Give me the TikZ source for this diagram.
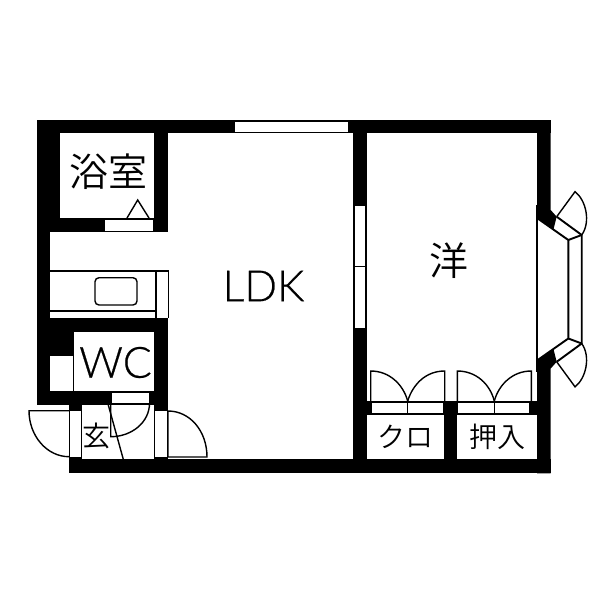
\documentclass[tikz,border=0pt]{standalone}
\usepackage{fontspec}
\setmainfont{Lato Light}[AutoFakeBold=0.5]
\newfontfamily\cjk{Noto Sans CJK JP DemiLight}
\tikzset{
  wall/.style={fill=black,draw=none},
  room/.style={fill=white,draw=none},
  thin/.style={draw=black,line width=1.4pt},
  bay/.style={draw=black,line width=1.9pt,line join=miter},
  bigtxt/.style={font=\bfseries\fontsize{43}{43}\selectfont,inner sep=0pt,text=black},
  kanji/.style={font=\cjk\fontsize{39}{39}\selectfont,inner sep=0pt,text=black},
  small/.style={font=\cjk\fontsize{28}{28}\selectfont,inner sep=0pt,text=black},
}
\begin{document}
\begin{tikzpicture}[x=1pt,y=-1pt]
\useasboundingbox (0,0) rectangle (600,600);
\fill[white] (0,0) rectangle (600,600);
% outer and inner walls
\fill[wall] (36.7,120) rectangle (550.7,133.3);
\fill[wall] (36.7,120) rectangle (50,405);
\fill[wall] (36.7,120) rectangle (60,232);
\fill[wall] (36.7,218) rectangle (168,232);
\fill[wall] (154.3,120) rectangle (168,232);
\fill[wall] (36.7,318.3) rectangle (168,332.3);
\fill[wall] (36.7,318.3) rectangle (74.3,405);
\fill[wall] (36.7,391) rectangle (168,405.2);
\fill[wall] (154.3,318.3) rectangle (168,459.3);
\fill[wall] (69,391) rectangle (82.3,473.3);
\fill[wall] (69,459.3) rectangle (550.7,473.3);
\fill[wall] (353.3,120) rectangle (366.7,473.3);
\fill[wall] (366.7,401) rectangle (537,414.3);
\fill[wall] (444,401) rectangle (457.3,473.3);
\fill[wall] (537,120) -- (550.7,120) -- (550.7,210) -- (556.7,216.7) -- (553.5,229.3) -- (537,218) -- cycle;
\fill[wall] (537,360.5) -- (553.5,349.2) -- (556.7,361.8) -- (550.7,368.5) -- (550.7,473.3) -- (537,473.3) -- cycle;
% rooms set into the walls
\fill[room] (60,133.3) rectangle (154.3,218);
\fill[room] (74.3,332.3) rectangle (154.3,391);
\fill[room] (50,355.7) rectangle (72.7,391);
\fill[room] (82.3,405.2) rectangle (154.3,459.3);
\fill[room] (366.7,414.3) rectangle (444,459.3);
\fill[room] (457.3,414.3) rectangle (537,459.3);
% windows and door leaves in the walls
\fill[room] (105,220) rectangle (153,230.7);
\fill[room] (235,121.7) rectangle (347.7,131.7);
\fill[room] (354.7,205.7) rectangle (365.3,328.3);
\draw[thin,line width=1pt] (354.7,266) -- (365.3,266);
\fill[room] (111.7,393.3) rectangle (149.3,403.3);
\fill[room] (70,410.7) rectangle (80.7,456.7);
\fill[room] (155.3,410.7) rectangle (166.7,456.7);
\fill[room] (372.3,402.5) rectangle (443.3,412.8);
\fill[room] (458.3,402.5) rectangle (529.3,412.8);
\draw[thin] (407.7,401) -- (407.7,414.3);
\draw[thin] (494.3,401) -- (494.3,414.3);
\draw[thin] (366.7,401.3) -- (537,401.3);
\draw[thin] (366.7,414) -- (537,414);
% bath triangle
\draw[thin] (127,218) -- (137.7,200) -- (149,218);
% kitchen
\draw[thin] (50,271) -- (168.5,271);
\draw[thin] (156,271) -- (156,318.3);
\draw[thin] (168.3,271) -- (168.3,318.3);
\draw[thin] (50,311) -- (156,311);
\draw[thin,rounded corners=4pt] (95,277.7) rectangle (137,305);
% entrance doors
\draw[thin] (69,410.7) -- (29,410.7) .. controls (29,436) and (47,456.7) .. (69,456.7);
\draw[thin] (168,411) -- (168,457) -- (207,457) .. controls (207,431) and (190,411) .. (168,411);
\draw[thin] (110.7,393.3) -- (110.7,436.7) .. controls (132,436.7) and (149.5,422) .. (149.5,403.3);
\draw[thin] (108.3,405) -- (123.3,459.3);
% closet doors
\draw[thin] (407.7,401) .. controls (403,384) and (389,371) .. (370.7,371) -- (370.7,401);
\draw[thin] (407.7,401) .. controls (413,384) and (426,371) .. (444.7,371) -- (444.7,401);
\draw[thin] (494.3,401) .. controls (490,384) and (476,371) .. (457.3,371) -- (457.3,401);
\draw[thin] (494.3,401) .. controls (499,384) and (513,371) .. (531.3,371) -- (531.3,401);
% bay window
\draw[thin] (537,205) -- (537,372);
\draw[bay] (537,218) -- (568.3,240) -- (568.3,338.5) -- (537,360.5);
\draw[bay] (556.7,216.7) -- (581.7,235) -- (581.7,343.5) -- (556.7,361.8);
\draw[bay] (568.3,240) -- (581.7,235);
\draw[bay] (568.3,338.5) -- (581.7,343.5);
\draw[thin] (556.7,216.7) -- (575,191.7) .. controls (586,200) and (591,222) .. (581.7,235);
\draw[thin] (556.7,361.8) -- (575,386.8) .. controls (586,378.5) and (591,356.5) .. (581.7,343.5);
% labels
\node[kanji] (bath) at (108.5,172) {浴室};
\node[bigtxt] (ldk) at (263.5,286) {LDK};
\node[bigtxt] (wc) at (115.5,362.5) {WC};
\node[kanji] (west) at (449,261) {洋};
\node[small] (cl) at (405,437) {クロ};
\node[small] (oshi) at (497,437) {押入};
\node[small] (gen) at (96.5,435.5) {玄};
\end{tikzpicture}
\end{document}
